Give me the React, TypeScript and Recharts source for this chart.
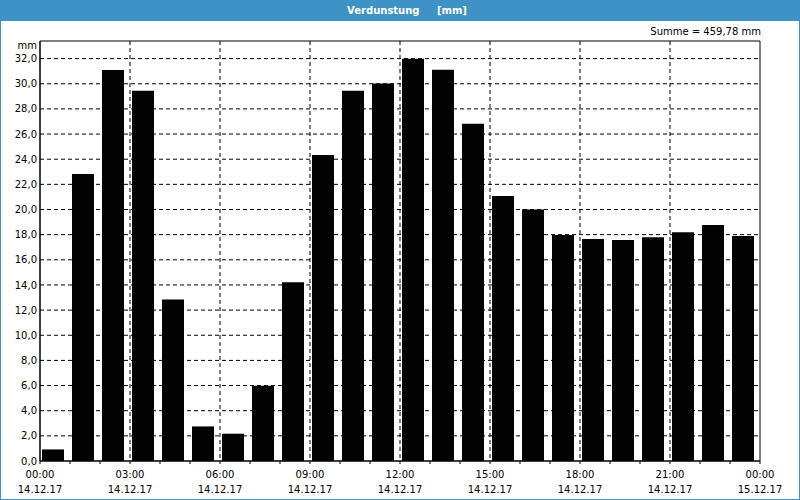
import {
  BarChart,
  Bar,
  XAxis,
  YAxis,
  CartesianGrid,
  ReferenceArea,
  Rectangle
} from 'recharts'

// one bar per hour, 14.12.17 00:00 -> 15.12.17 00:00
const hours = [
  '00', '01', '02', '03', '04', '05', '06', '07', '08', '09', '10', '11',
  '12', '13', '14', '15', '16', '17', '18', '19', '20', '21', '22', '23'
]
const verdunstung = [
  0.92, 22.83, 31.1, 29.44, 12.85, 2.75, 2.17, 5.99, 14.22, 24.34, 29.44, 30.02,
  31.99, 31.12, 26.81, 21.07, 20.0, 17.97, 17.65, 17.57, 17.8, 18.2, 18.76, 17.89
]
const timeLabels = ['00:00', '03:00', '06:00', '09:00', '12:00', '15:00', '18:00', '21:00', '00:00']
const dateLabels = ['14.12.17', '14.12.17', '14.12.17', '14.12.17', '14.12.17', '14.12.17', '14.12.17', '14.12.17', '15.12.17']
const yTicks = [0, 2, 4, 6, 8, 10, 12, 14, 16, 18, 20, 22, 24, 26, 28, 30, 32]
const yMax = 33.4

const data = hours.map((h, i) => ({ hour: h, start: Number(h), value: verdunstung[i] }))
const hourTicks = Array.from({ length: 25 }, (_, i) => i)
const gridHours = [3, 6, 9, 12, 15, 18, 21]

const font = '"DejaVu Sans", sans-serif'
const blue = '#3e92c5'

const HourTick = (props: any) => {
  const { x, y, payload } = props
  const h = payload.value
  if (h % 3 !== 0) return null
  const i = h / 3
  return (
    <text x={x} y={y} textAnchor="middle" fontSize={10} fontFamily={font} fill="#000">
      <tspan x={x} dy={12}>{timeLabels[i]}</tspan>
      <tspan x={x} dy={15}>{dateLabels[i]}</tspan>
    </text>
  )
}

const ShiftedBar = (props: any) => <Rectangle {...props} x={props.x - 2} />

// vertical grid every 3 hours, from the plot offset (0..24 h across the width)
const hourGrid = ({ offset }: any) =>
  gridHours.map((h) => offset.left + (offset.width * h) / 24)

export default function App() {
  return (
    <div
      style={{
        position: 'absolute',
        top: 0,
        left: 0,
        width: 800,
        height: 500,
        background: '#fff',
        fontFamily: font
      }}
    >
      <div
        style={{
          position: 'absolute',
          top: 0,
          left: 0,
          width: 800,
          height: 21,
          boxSizing: 'border-box',
          paddingLeft: 14,
          background: blue,
          color: '#fff',
          fontWeight: 'bold',
          fontSize: 10,
          lineHeight: '21px',
          textAlign: 'center',
          whiteSpace: 'pre'
        }}
      >
        {'Verdunstung     [mm]'}
      </div>
      <div style={{ position: 'absolute', top: 26, right: 39, fontSize: 10, color: '#000' }}>
        Summe = 459,78 mm
      </div>
      <div style={{ position: 'absolute', top: 40, left: 0, width: 37, textAlign: 'right', fontSize: 10, color: '#000' }}>
        mm
      </div>
      <BarChart
        width={800}
        height={500}
        data={data}
        margin={{ top: 41, right: 40, bottom: 0, left: 0 }}
        barSize={22}
      >
        <CartesianGrid
          xAxisId="hour"
          stroke="#000"
          strokeDasharray="4 3"
          horizontalValues={yTicks.filter((t) => t > 0)}
          verticalCoordinatesGenerator={hourGrid}
        />
        <XAxis
          xAxisId="hour"
          dataKey="start"
          type="number"
          domain={[0, 24]}
          allowDataOverflow
          ticks={hourTicks}
          interval={0}
          height={39}
          tickSize={3}
          tickLine={{ stroke: '#000' }}
          axisLine={{ stroke: '#000' }}
          tick={<HourTick />}
        />
        <XAxis xAxisId="cat" dataKey="hour" hide height={0} />
        <YAxis
          domain={[0, yMax]}
          ticks={yTicks}
          interval={0}
          width={40}
          tickLine={false}
          tickSize={0}
          tickMargin={3}
          axisLine={{ stroke: '#000' }}
          tick={{ fill: '#000', fontSize: 10, fontFamily: font }}
          tickFormatter={(v: number) => v.toFixed(1).replace('.', ',')}
        />
        <ReferenceArea
          xAxisId="hour"
          x1={0}
          x2={24}
          y1={0}
          y2={yMax}
          fill="none"
          fillOpacity={0}
          stroke="#000"
          strokeWidth={1}
        />
        <Bar
          xAxisId="cat"
          dataKey="value"
          fill="#030303"
          shape={<ShiftedBar />}
          isAnimationActive={false}
        />
      </BarChart>
      <div
        style={{
          position: 'absolute',
          top: 0,
          left: 0,
          width: 800,
          height: 500,
          boxSizing: 'border-box',
          border: `1px solid ${blue}`,
          pointerEvents: 'none'
        }}
      />
    </div>
  )
}
